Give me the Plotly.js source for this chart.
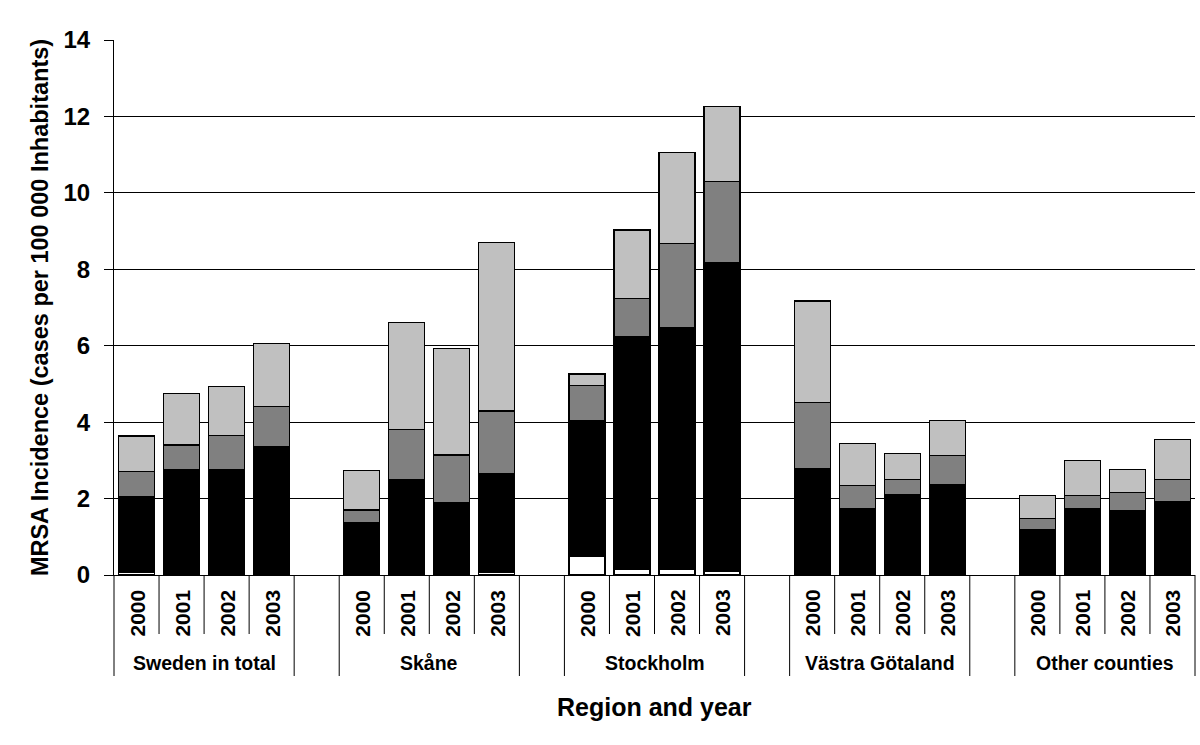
<!DOCTYPE html>
<html>
<head>
<meta charset="utf-8">
<script src="https://cdn.plot.ly/plotly-3.0.1.min.js"></script>
<style>html,body{margin:0;padding:0;background:#fff;}#chart{width:1200px;height:745px;}</style>
</head>
<body>
<div id="chart"></div>
<script>
// ---- data ----
const regions = ['Sweden in total', 'Skåne', 'Stockholm', 'Västra Götaland', 'Other counties'];
const years = ['2000', '2001', '2002', '2003'];
// stacked segments, bottom to top, per bar (region-major, year-minor)
const whiteSeg = [0.06, 0, 0, 0,   0, 0, 0, 0.06,   0.48, 0.15, 0.15, 0.09,   0.04, 0, 0, 0.04,   0, 0, 0, 0];
const blackSeg = [1.99, 2.75, 2.75, 3.36,   1.37, 2.50, 1.90, 2.60,   3.56, 6.09, 6.32, 8.09,   2.75, 1.73, 2.11, 2.32,   1.18, 1.73, 1.69, 1.92];
const darkSeg  = [0.65, 0.65, 0.91, 1.05,   0.33, 1.30, 1.24, 1.63,   0.92, 1.00, 2.21, 2.12,   1.72, 0.61, 0.38, 0.76,   0.29, 0.35, 0.47, 0.57];
const lightSeg = [0.94, 1.35, 1.28, 1.64,   1.03, 2.81, 2.79, 4.41,   0.30, 1.79, 2.38, 1.96,   2.66, 1.11, 0.70, 0.92,   0.62, 0.91, 0.61, 1.06];
const yTitle = 'MRSA Incidence (cases per 100 000 Inhabitants)';
const xTitle = 'Region and year';

// ---- layout helpers ----
const slotsPerGroup = years.length + 1;               // 4 bars + 1 empty spacer slot
const nSlots = regions.length * slotsPerGroup - 1;     // 24
const xs = [];
regions.forEach((r, ri) => years.forEach((y, yi) => xs.push(ri * slotsPerGroup + yi)));

const FONT = 'Liberation Sans, Arial, Helvetica, sans-serif';
const plotTop = 40, plotBottom = 575, plotH = plotBottom - plotTop;
const py = pix => (plotBottom - pix) / plotH;        // pixel row -> paper y

const barLine = {color: '#000', width: 1.2};
function seg(vals, color, name) {
  return {type: 'bar', x: xs, y: vals, name: name, width: 0.8,
          marker: {color: color, line: barLine}, hoverinfo: 'y+name'};
}
const traces = [
  seg(whiteSeg, '#ffffff', 'white'),
  seg(blackSeg, '#000000', 'black'),
  seg(darkSeg, '#808080', 'dark grey'),
  seg(lightSeg, '#c0c0c0', 'light grey')
];

const shapes = [], annotations = [];
const shortEnd = py(634), longEnd = py(676);
const lineStyle = {color: '#000', width: 1};
// vertical separators of the label table
for (let k = 0; k <= nSlots; k++) {
  const pos = k % slotsPerGroup;
  const isLong = (pos === 0) || (pos === years.length) || k === nSlots;
  shapes.push({type: 'line', xref: 'paper', yref: 'paper',
               x0: k / nSlots, x1: k / nSlots, y0: 0, y1: isLong ? longEnd : shortEnd,
               line: lineStyle});
}
// year labels
xs.forEach((s, i) => {
  annotations.push({xref: 'paper', yref: 'paper', x: (s + 0.5) / nSlots, y: py(613),
    xanchor: 'center', yanchor: 'middle', textangle: -90, showarrow: false,
    text: years[i % years.length], font: {family: FONT, size: 21, weight: 'bold', color: '#000'}});
});
// region labels
regions.forEach((r, ri) => {
  const c = ri * slotsPerGroup + (years.length - 1) / 2;
  annotations.push({xref: 'paper', yref: 'paper', x: (c + 0.5) / nSlots, y: py(663),
    xanchor: 'center', yanchor: 'middle', showarrow: false, text: r,
    font: {family: FONT, size: 19.5, weight: 'bold', color: '#000'}});
});
// x title
annotations.push({xref: 'paper', yref: 'paper', x: 0.5, y: py(707), xanchor: 'center', yanchor: 'middle',
  showarrow: false, text: xTitle, font: {family: FONT, size: 25, weight: 'bold', color: '#000'}});

const layout = {
  width: 1200, height: 745,
  margin: {l: 114, r: 5, t: plotTop, b: 745 - plotBottom, pad: 0},
  paper_bgcolor: '#fff', plot_bgcolor: '#fff',
  barmode: 'stack', showlegend: false,
  xaxis: {range: [-0.5, nSlots - 0.5], showticklabels: false, ticks: '', showgrid: false,
          zeroline: false, showline: true, linecolor: '#000', linewidth: 1, fixedrange: true},
  yaxis: {range: [0, 14], dtick: 2, tick0: 0, showgrid: true, gridcolor: '#000', gridwidth: 1,
          zeroline: false, showline: true, linecolor: '#000', linewidth: 1,
          ticks: 'outside', ticklen: 9, tickcolor: '#000', tickwidth: 1, ticklabelstandoff: 9,
          tickfont: {family: FONT, size: 24, weight: 'bold', color: '#000'},
          title: {text: yTitle, standoff: 8, font: {family: FONT, size: 23.5, weight: 'bold', color: '#000'}},
          automargin: false, fixedrange: true},
  shapes: shapes,
  annotations: annotations
};

Plotly.newPlot('chart', traces, layout, {displayModeBar: false, staticPlot: true});
</script>
</body>
</html>
